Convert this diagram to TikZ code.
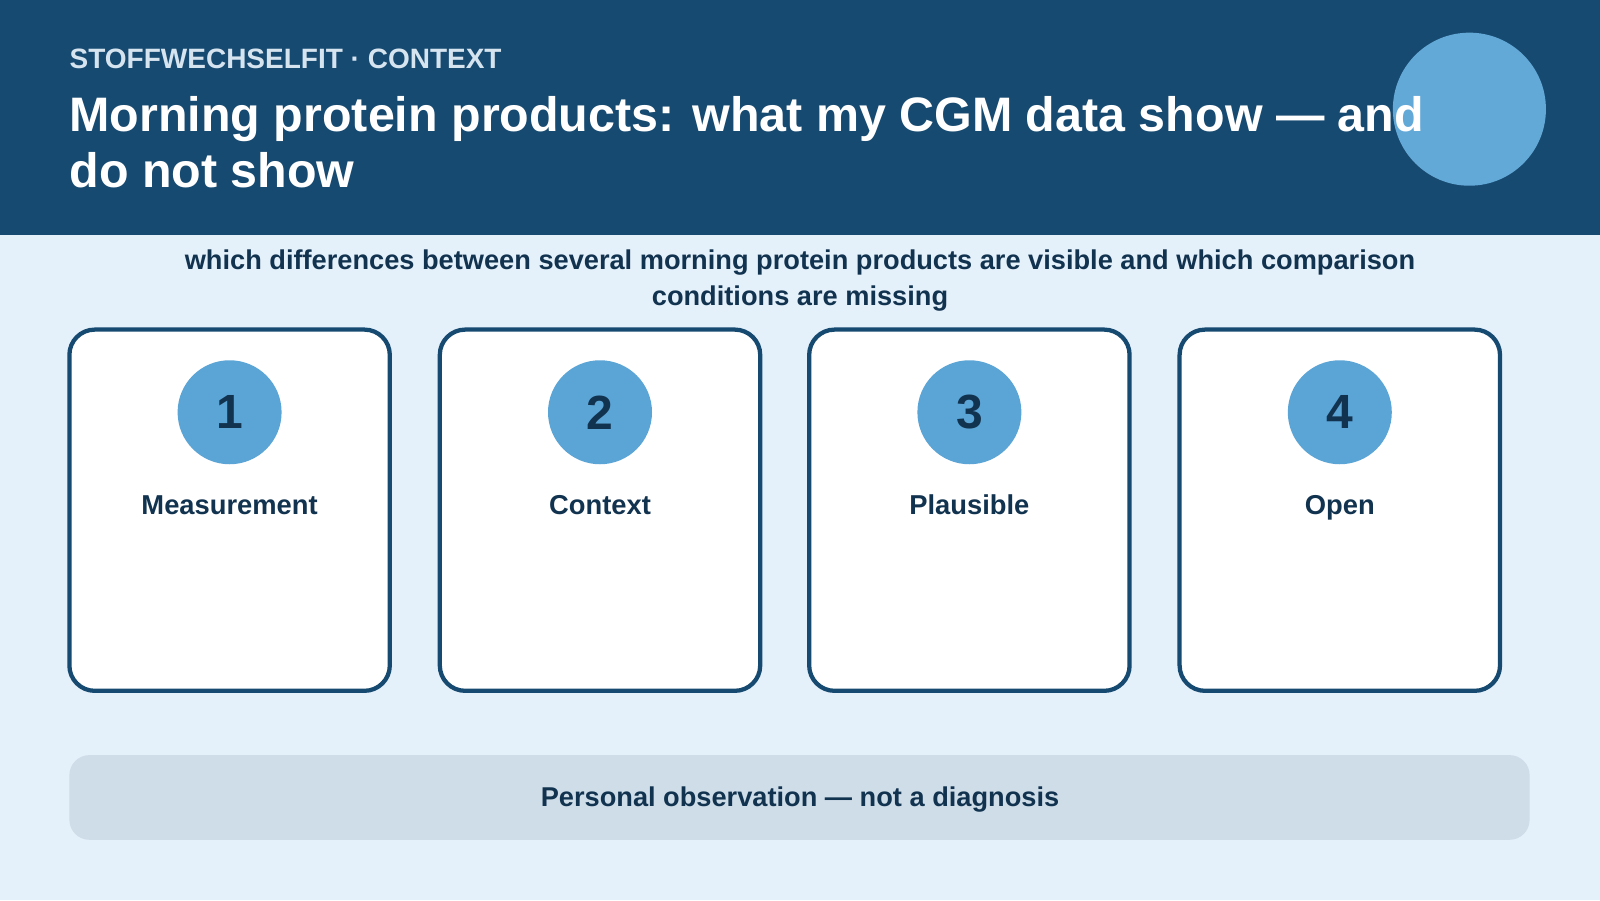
\documentclass[tikz,border=0pt]{standalone}
\usepackage{fontspec}
\setmainfont{Liberation Sans}
\definecolor{hdr}{HTML}{174A70}
\definecolor{bg}{HTML}{E4F0FA}
\definecolor{ink}{HTML}{12334F}
\definecolor{acc}{HTML}{5BA4D6}
\definecolor{foot}{HTML}{CFDDE9}
\definecolor{sub}{HTML}{D6E4F0}
\begin{document}
\begin{tikzpicture}[x=0.7653pt,y=-0.7653pt,
  card/.style={draw=hdr,line width=3.2pt,fill=white,rounded corners=19pt},
  num/.style={circle,fill=acc,minimum size=78pt,inner sep=0pt,text=ink,font=\bfseries\fontsize{36}{40}\selectfont},
  lab/.style={text=ink,font=\bfseries\fontsize{20.5}{24}\selectfont,anchor=base,inner sep=0pt},
  body/.style={text=ink,font=\bfseries\fontsize{20.4}{26.5}\selectfont,align=center}]
\useasboundingbox (0,0) rectangle (1568,882);
\fill[bg] (0,0) rectangle (1568,882);
\fill[hdr] (0,0) rectangle (1568,230);
\fill[acc!95!white] (1440,107) circle (75);
\node[anchor=base west,text=sub,font=\bfseries\fontsize{21}{24}\selectfont,inner sep=0pt] (kick) at (68,67) {STOFFWECHSELFIT · CONTEXT};
\node[anchor=north west,text=white,font=\bfseries\fontsize{36.3}{42.5}\selectfont,align=left,inner sep=0pt] (title) at (68,94) {Morning protein products: what my CGM data show — and\\do not show};
\node[body] (intro) at (784,275) {which differences between several morning protein products are visible and which comparison\\conditions are missing};
\foreach \i/\x/\t in {1/225/Measurement,2/588/Context,3/950/Plausible,4/1313/Open}{
  \draw[card] (\x-157,323) rectangle (\x+157,677);
  \node[num] (n\i) at (\x,404) {\i};
  \node[lab] (l\i) at (\x,504) {\t};
}
\fill[foot,rounded corners=15pt] (68,740) rectangle (1499,823);
\node[body] (footer) at (784,784) {Personal observation — not a diagnosis};
\end{tikzpicture}
\end{document}
